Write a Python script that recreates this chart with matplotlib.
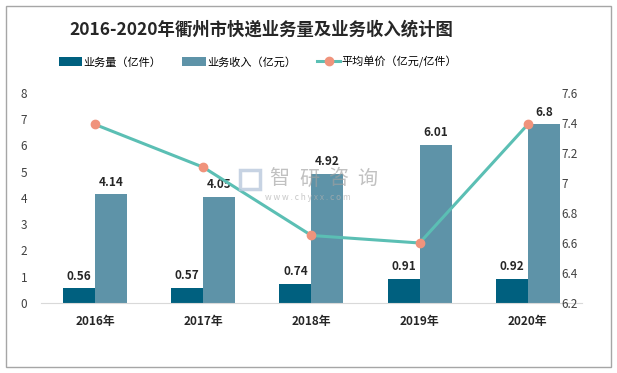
import matplotlib.pyplot as plt
import numpy as np
from matplotlib.patches import Rectangle

plt.rcParams['font.family'] = ['Noto Sans CJK SC', 'DejaVu Sans']

years = ['2016年', '2017年', '2018年', '2019年', '2020年']
volume = [0.56, 0.57, 0.74, 0.91, 0.92]
revenue = [4.14, 4.05, 4.92, 6.01, 6.8]
unit_price = [7.39, 7.105, 6.65, 6.60, 7.39]

c_dark = '#00607F'
c_light = '#5E93A8'
c_line = '#5BBFB4'
c_mark = '#F0937C'

W, H = 617, 373
fig = plt.figure(figsize=(6.17, 3.73), dpi=100)
fig.patches.append(Rectangle((0.009, 0.017), 0.981, 0.968, transform=fig.transFigure,
                             fill=False, edgecolor='#A6A6A6', linewidth=1.0))

ax = fig.add_axes([0.0665, 0.1877, 0.8765, 0.563])
x = np.arange(len(years))
w = 0.296

b1 = ax.bar(x - w / 2, volume, w, color=c_dark, label='业务量（亿件）', zorder=2)
b2 = ax.bar(x + w / 2, revenue, w, color=c_light, label='业务收入（亿元）', zorder=2)

for xi, v in zip(x, volume):
    ax.text(xi - w / 2, v + 0.22, f'{v:g}', ha='center', va='bottom', fontsize=8.5,
            fontweight='bold', color='#262626')
for xi, v in zip(x, revenue):
    ax.text(xi + w / 2, v + 0.22, f'{v:g}', ha='center', va='bottom', fontsize=8.5,
            fontweight='bold', color='#262626')

ax.set_xlim(-0.5, 4.5)
ax.set_ylim(0, 8)
ax.set_yticks(range(0, 9))
ax.set_xticks(x)
ax.set_xticklabels(years, fontsize=8.5, fontweight='bold', color='#262626')
ax.tick_params(axis='y', length=0, labelsize=8.5, labelcolor='#404040', pad=10)
ax.tick_params(axis='x', length=0, pad=9)
for s in ['top', 'right', 'left']:
    ax.spines[s].set_visible(False)
ax.spines['bottom'].set_color('#D9D9D9')

ax2 = ax.twinx()
ln, = ax2.plot(x, unit_price, color=c_line, linewidth=2.2, marker='o', markersize=6,
               markerfacecolor=c_mark, markeredgecolor=c_mark, label='平均单价（亿元/亿件）', zorder=3)
ax2.set_ylim(6.2, 7.6)
ax2.set_yticks([6.2, 6.4, 6.6, 6.8, 7.0, 7.2, 7.4, 7.6])
ax2.set_yticklabels(['6.2', '6.4', '6.6', '6.8', '7', '7.2', '7.4', '7.6'])
ax2.tick_params(axis='y', length=0, labelsize=8.5, labelcolor='#404040', pad=-15)
for s in ax2.spines.values():
    s.set_visible(False)

# watermark
for cx, ch in zip([279, 309, 338, 367], '智研咨询'):
    fig.text(cx / W, 1 - 179 / H, ch, fontsize=14.5, color='#A0A0A0', alpha=0.65,
             ha='center', va='center', zorder=5)
fig.patches.append(Rectangle((240 / W, 1 - 189 / H), 20 / W, 19 / H, transform=fig.transFigure,
                             fill=False, edgecolor='#B9C9DD', linewidth=2.5, alpha=0.8, zorder=5))
fig.text(308 / W, 1 - 198 / H, 'w w w . c h y x x . c o m', fontsize=6, color='#B0B0B0',
         alpha=0.7, ha='center', va='center', zorder=5)

fig.text(261 / W, 1 - 30 / H, '2016-2020年衢州市快递业务量及业务收入统计图', fontsize=12.5,
         fontweight='bold', color='#262626', ha='center', va='center')

fig.legend(handles=[b1, b2, ln], loc='center', bbox_to_anchor=(258 / W, 1 - 62 / H), ncol=3,
           frameon=False, fontsize=8, handlelength=2.1, handleheight=0.9, columnspacing=1.9,
           handletextpad=0.1)

plt.savefig('out.png', dpi=100)
